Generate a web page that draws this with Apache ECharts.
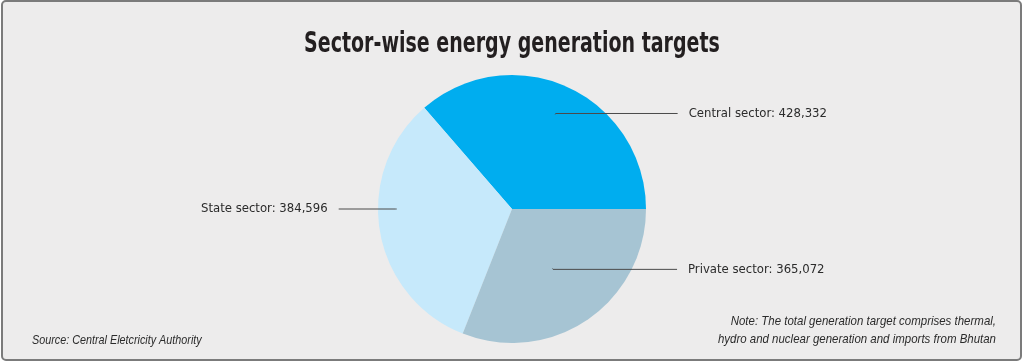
<!DOCTYPE html>
<html>
<head>
<meta charset="utf-8">
<script src="https://cdn.jsdelivr.net/npm/echarts@6/dist/echarts.min.js"></script>
<style>
html,body{margin:0;padding:0;background:#ffffff;}
#chart{width:1024px;height:364px;}
</style>
</head>
<body>
<div id="chart"></div>
<script>
// ---- data ----
var categories = ['Central sector', 'State sector', 'Private sector'];
var values = [428332, 384596, 365072];
var colors = ['#00adef', '#c6e9fb', '#a6c4d3'];
var titleText = 'Sector-wise energy generation targets';
var sourceText = 'Source: Central Eletcricity Authority';
var noteLines = ['Note: The total generation target comprises thermal,', 'hydro and nuclear generation and imports from Bhutan'];

// ---- layout / style ----
var CENTER = [512, 209];
var RADIUS = 134;
var labelFont = '"DejaVu Sans Condensed", "Liberation Sans Narrow", sans-serif';
var noteFont = '"Liberation Sans", Arial, sans-serif';
var labelRadius = [104, 117, 72];   // where each label line starts inside its slice
var labelLen2 = [122, 57, 124];

function fmt(n){ return n.toString().replace(/\B(?=(\d{3})+(?!\d))/g, ','); }

var mainData = categories.map(function(c, i){
  return { name: c, value: values[i], itemStyle: { color: colors[i] } };
});

var series = [{
  type: 'pie',
  z: 1,
  center: CENTER,
  radius: [0, RADIUS],
  startAngle: 0,
  clockwise: false,
  silent: true,
  label: { show: false },
  labelLine: { show: false },
  itemStyle: { borderWidth: 0 },
  emphasis: { disabled: true },
  data: mainData
}];

categories.forEach(function(c, k){
  series.push({
    type: 'pie',
    z: 5,
    center: CENTER,
    radius: [0, labelRadius[k]],
    startAngle: 0,
    clockwise: false,
    silent: true,
    avoidLabelOverlap: false,
    emphasis: { disabled: true },
    itemStyle: { color: 'rgba(0,0,0,0)', borderWidth: 0 },
    label: { show: false },
    labelLine: { show: false },
    labelLayout: k === 1 ? function(p){
      if (p.dataIndex !== 1 || !p.labelLinePoints) return {};
      return {
        y: CENTER[1],
        labelLinePoints: p.labelLinePoints.map(function(q){ return [q[0], CENTER[1]]; })
      };
    } : undefined,
    data: categories.map(function(cc, i){
      var d = { name: cc, value: values[i] };
      if (i === k) {
        d.label = {
          show: true,
          position: 'outside',
          distanceToLabelLine: 11,
          formatter: cc + ': ' + fmt(values[i]),
          color: '#2b2b2b',
          fontSize: 13,
          fontFamily: labelFont
        };
        d.labelLine = {
          show: true,
          length: 1,
          length2: labelLen2[k],
          smooth: false,
          minTurnAngle: 0,
          lineStyle: { color: '#4a4a4a', width: 1 }
        };
      }
      return d;
    })
  });
});

var chart = echarts.init(document.getElementById('chart'), null, { renderer: 'canvas' });
chart.setOption({
  animation: false,
  backgroundColor: '#ffffff',
  graphic: [
    {
      type: 'rect', z: -10, silent: true,
      shape: { x: 2, y: 1, width: 1019, height: 359, r: 4 },
      style: { fill: '#edecec', stroke: '#7b7b7b', lineWidth: 2 }
    },
    {
      type: 'text', silent: true, x: 512, y: 45, scaleX: 0.755,
      style: { text: titleText, fill: '#231f20', fontSize: 28, fontWeight: 'bold',
               align: 'center', verticalAlign: 'middle', fontFamily: labelFont }
    },
    {
      type: 'text', silent: true, x: 32, y: 340, scaleX: 0.83,
      style: { text: sourceText, fill: '#2b2b2b', fontSize: 13, fontStyle: 'italic',
               align: 'left', verticalAlign: 'middle', fontFamily: noteFont }
    },
    {
      type: 'text', silent: true, x: 996, y: 330, scaleX: 0.85,
      style: { text: noteLines.join('\n'), fill: '#2b2b2b', fontSize: 13.5, lineHeight: 18, fontStyle: 'italic',
               align: 'right', verticalAlign: 'middle', fontFamily: noteFont }
    }
  ],
  series: series
});
</script>
</body>
</html>
